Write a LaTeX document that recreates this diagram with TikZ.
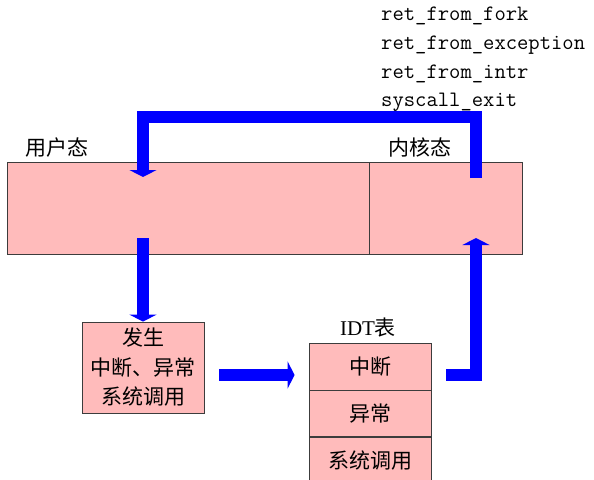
\documentclass[tikz,border=0pt]{standalone}
\usepackage{fontspec}
\setmainfont{Liberation Serif}
\newfontfamily\cjk{Noto Sans CJK SC}
\usetikzlibrary{arrows.meta}
\definecolor{boxpink}{RGB}{255,187,187}
\definecolor{boxline}{RGB}{60,60,60}
\definecolor{arrowblue}{RGB}{0,0,255}

\begin{document}
\begin{tikzpicture}[x=1pt, y=-1pt, font=\cjk\fontsize{21}{29.5}\selectfont]
\tikzset{statebox/.style={draw=boxline, fill=boxpink, line width=0.8pt, inner sep=0pt} }
\tikzset{retlabel/.style={anchor=base west, inner sep=0pt, font=\ttfamily\fontsize{22}{26}\selectfont} }
\tikzset{bigarrow/.style={draw=arrowblue, line width=12pt, -{Triangle[width=27pt,length=7pt]}} }
\useasboundingbox (0,0) rectangle (594,479);

% return paths
\node[retlabel] (fork) at (381,20)  {ret\_from\_fork};
\node[retlabel] (exc)  at (381,49)  {ret\_from\_exception};
\node[retlabel] (intr) at (381,78)  {ret\_from\_intr};
\node[retlabel] (sysx) at (381,106.5) {syscall\_exit};

% user / kernel
\node[statebox, minimum width=362pt, minimum height=92pt] (user)   at (188,208)   {};
\node[statebox, minimum width=153pt, minimum height=92pt] (kernel) at (445.5,208) {};
\node[anchor=base, inner sep=0pt] (userlbl)   at (57,155)  {用户态};
\node[anchor=base, inner sep=0pt] (kernellbl) at (420,155) {内核态};

% event and IDT
\node[statebox, minimum width=122pt, minimum height=91pt, align=center] (occur) at (143,367.5) {发生\\中断、异常\\系统调用};
\node[anchor=base, inner sep=0pt] (idtlbl) at (368,335) {{\rmfamily IDT}表};
\node[statebox, minimum width=122pt, minimum height=47pt] (idt1) at (370,366.5) {中断};
\node[statebox, minimum width=122pt, minimum height=46pt, anchor=north] (idt2) at (idt1.south) {异常};
\node[statebox, minimum width=122pt, minimum height=46pt, anchor=north] (idt3) at (idt2.south) {系统调用};

\coordinate (upout)   at (476,178);
\coordinate (upin)    at (143,177);
\coordinate (downout) at (143,238);
\coordinate (kin)     at (476,238);

\draw[bigarrow] (upout) -- ++(0,-61) -| (upin);
\draw[bigarrow] (downout) -- (occur.north);
\draw[bigarrow] ([xshift=15pt,yshift=-7.5pt]occur.east) -- ([xshift=-14pt,yshift=-7.5pt]occur.east -| idt1.west);
\draw[bigarrow] ([xshift=15pt,yshift=-8.5pt]idt1.east) -| (kin);
\end{tikzpicture}
\end{document}
